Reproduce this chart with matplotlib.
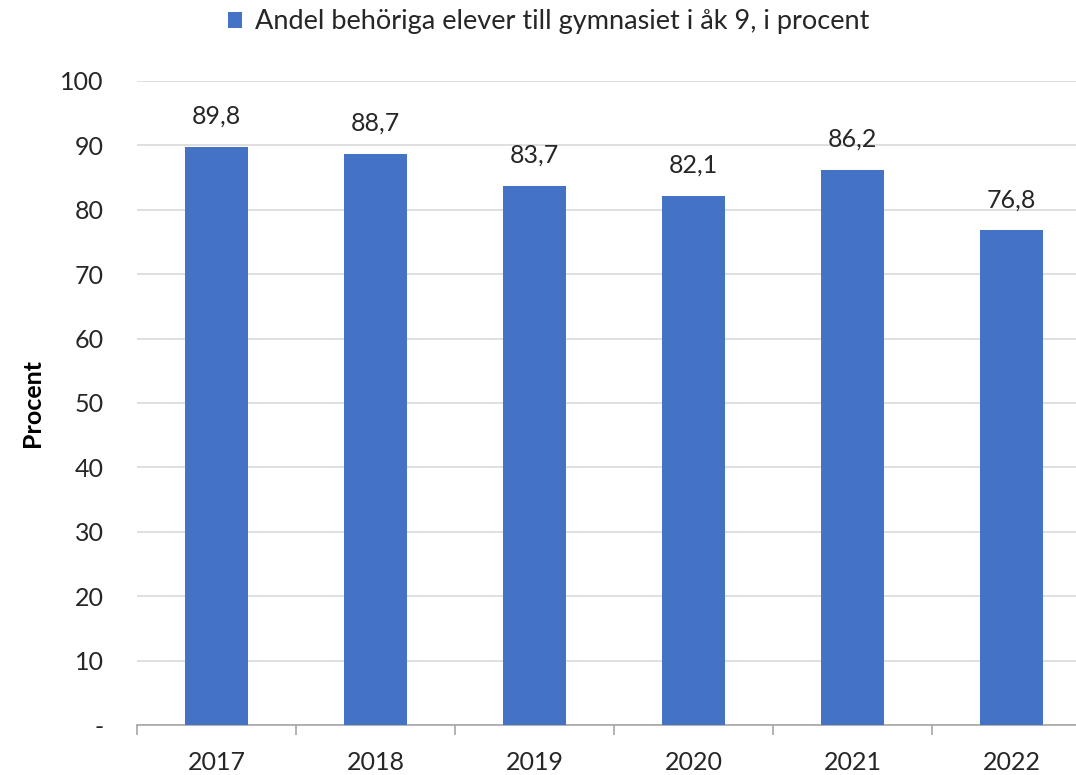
import numpy as np
import matplotlib.pyplot as plt

plt.rcParams['font.family'] = ['Lato', 'DejaVu Sans']

years = ['2017', '2018', '2019', '2020', '2021', '2022']
andel = [89.8, 88.7, 83.7, 82.1, 86.2, 76.8]
serie = 'Andel behöriga elever till gymnasiet i åk 9, i procent'

blue = '#4472C4'
grid_col = '#D9D9D9'
txt = '#262626'

fig = plt.figure(figsize=(10.76, 7.75), dpi=100)
# plot area runs slightly past the right edge (reference image is cropped)
ax = fig.add_axes([0.1273, 0.0645, 0.8866, 0.831])

x = np.arange(len(years))
ax.bar(x, andel, width=0.40, color=blue, label=serie, zorder=3)

for xi, v in zip(x, andel):
    ax.text(xi, v + 3, f'{v:.1f}'.replace('.', ','), ha='center', va='bottom',
            fontsize=18, color=txt)

ax.set_xlim(-0.5, len(years) - 0.5)
ax.set_ylim(0, 100)
ax.set_yticks(np.arange(0, 101, 10))
ax.set_yticklabels(['-'] + [str(t) for t in range(10, 101, 10)])
ax.grid(axis='y', color=grid_col, linewidth=1.2, zorder=0)

ax.set_xticks(x)
ax.set_xticklabels(years)
ax.set_xticks(np.arange(-0.5, len(years)), minor=True)
ax.tick_params(axis='x', which='major', length=0, pad=19, labelsize=18, labelcolor=txt)
ax.tick_params(axis='x', which='minor', length=7, color='#A6A6A6', width=1.2)
ax.tick_params(axis='y', length=0, pad=24, labelsize=18, labelcolor=txt)

for s in ['top', 'right', 'left']:
    ax.spines[s].set_visible(False)
ax.spines['bottom'].set_color('#A6A6A6')
ax.spines['bottom'].set_linewidth(1.2)

ax.set_ylabel('Procent', fontsize=18, fontweight='bold', color='black')
ax.yaxis.set_label_coords(-0.097, 0.5)

fig.legend(loc='center', bbox_to_anchor=(549 / 1076, 1 - 22 / 775), frameon=False,
           fontsize=19.5, handlelength=0.5, handleheight=0.5, handletextpad=0.5,
           labelcolor=txt)

fig.savefig('out.png', dpi=100)
